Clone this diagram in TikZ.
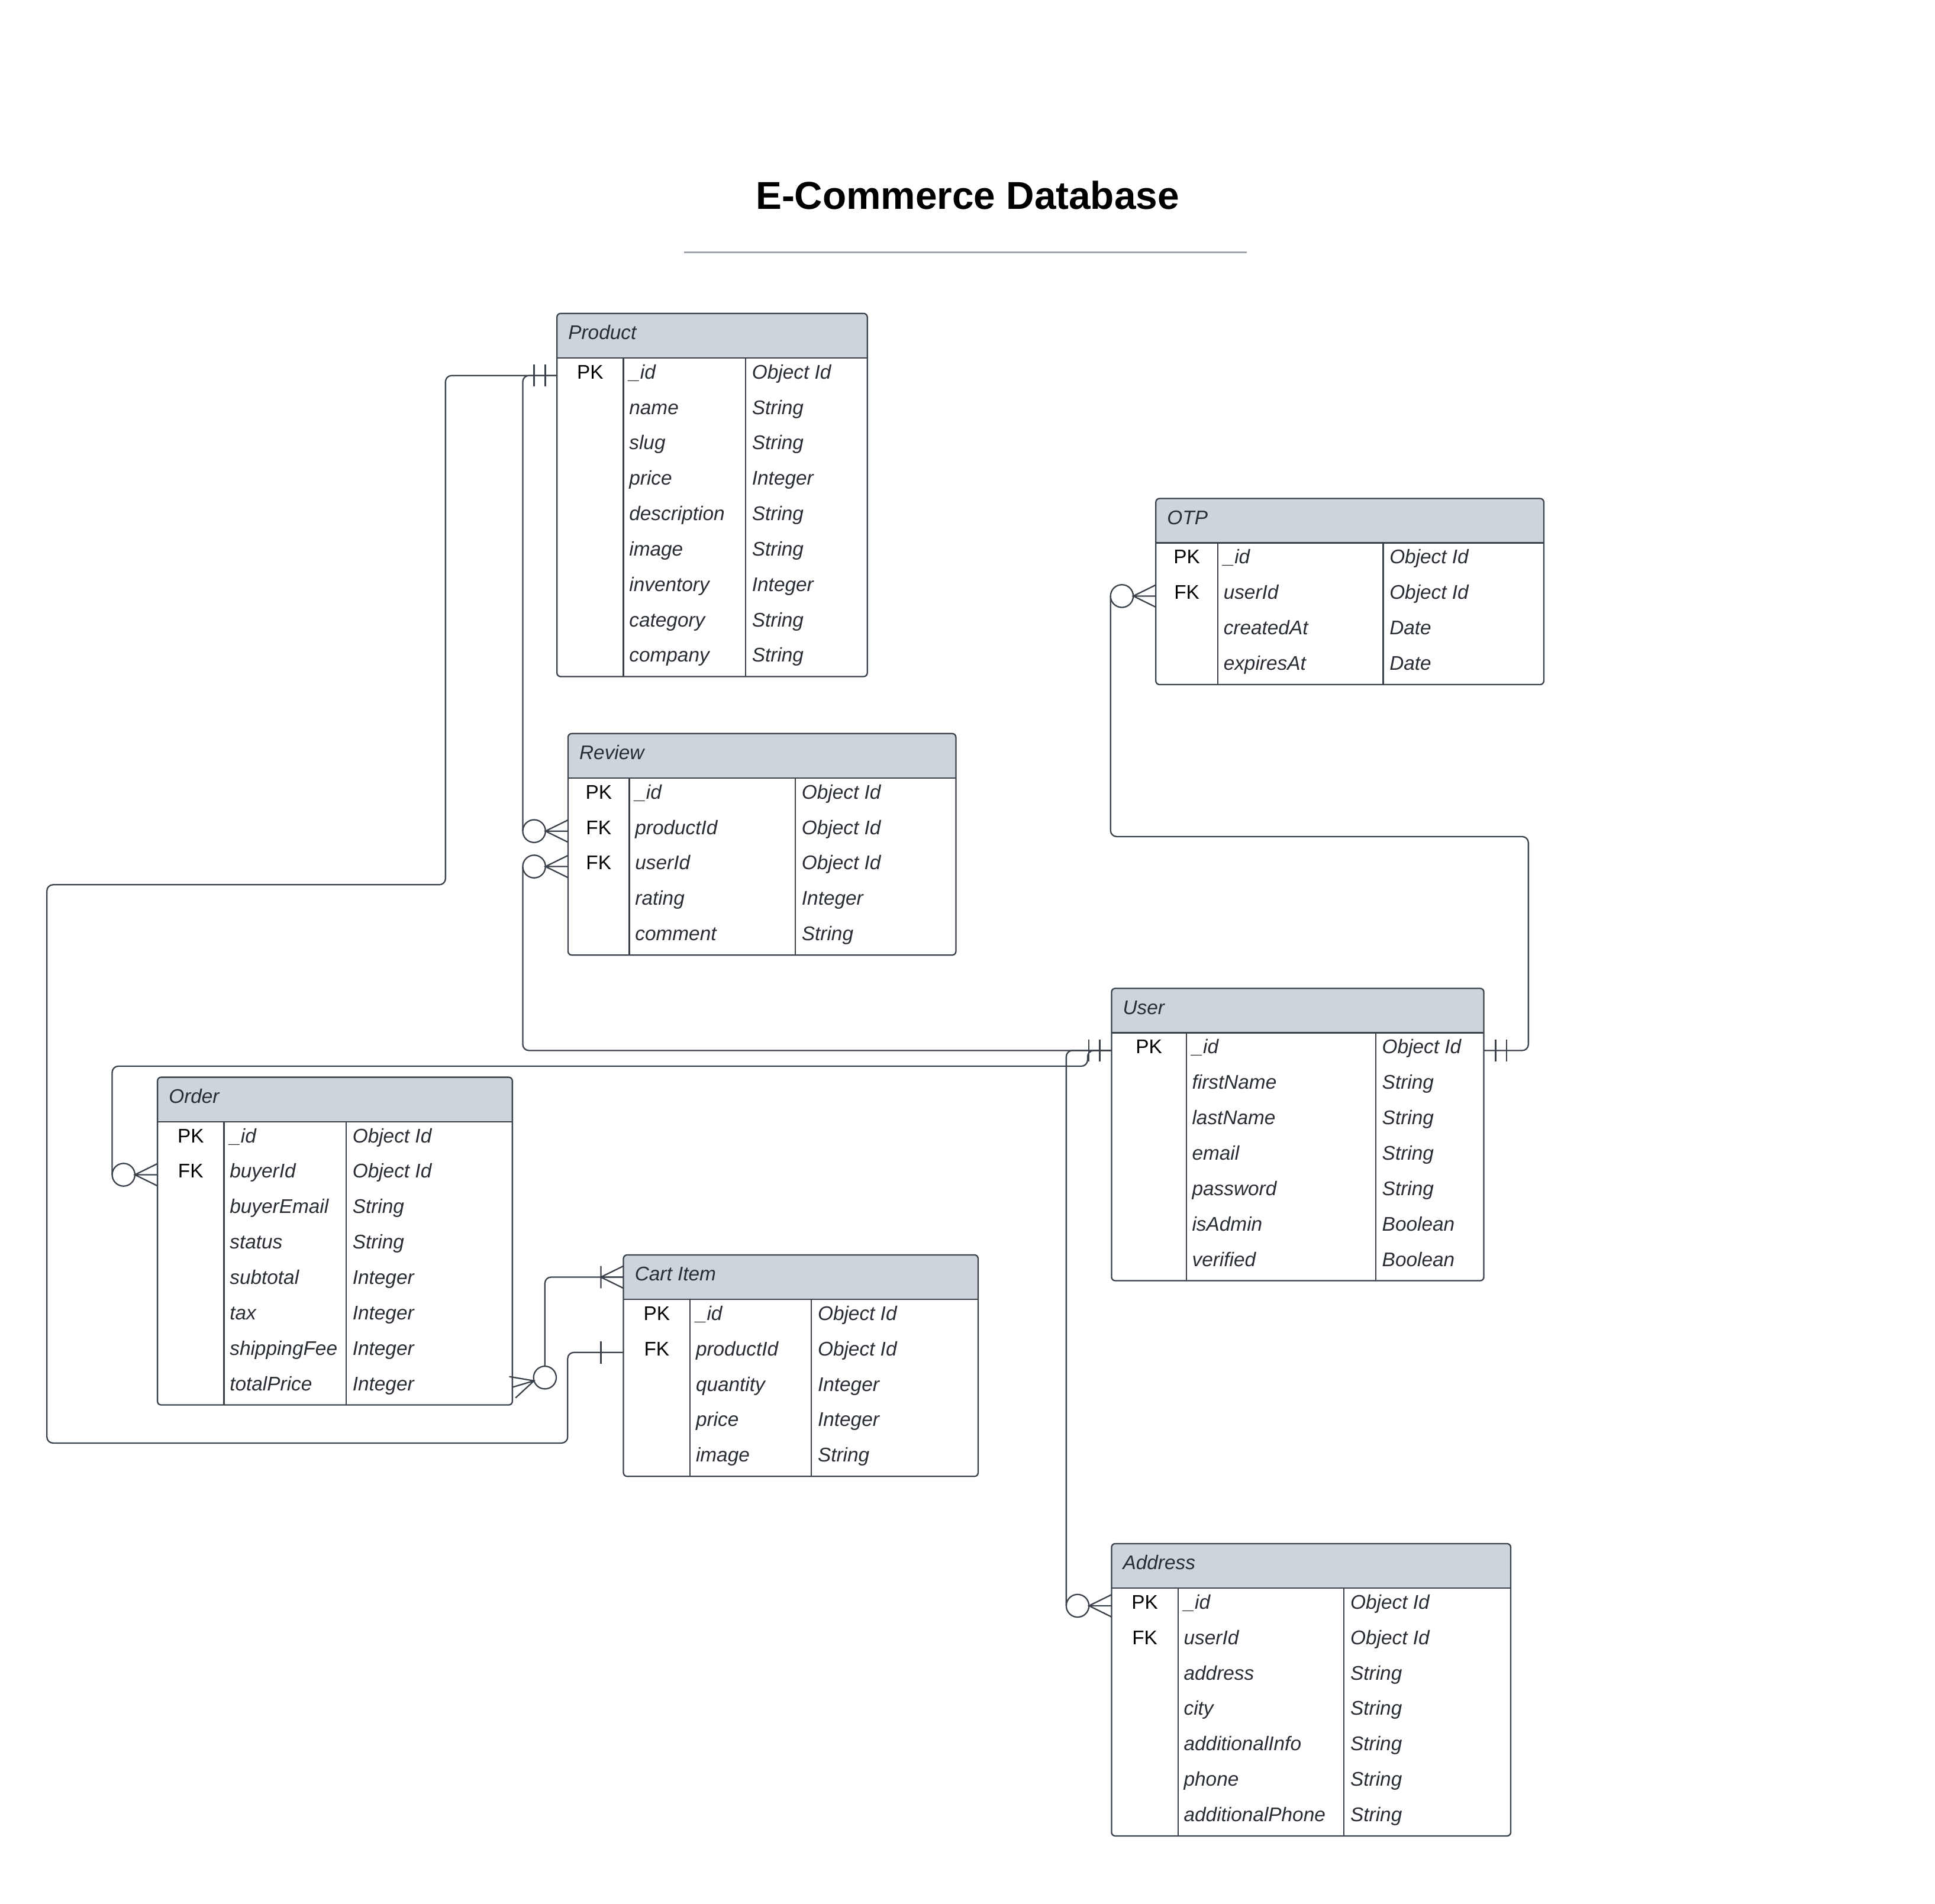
\documentclass[tikz,border=0pt]{standalone}
\usepackage{fontspec}
\setmainfont{Liberation Sans}
\usetikzlibrary{calc}
\definecolor{hdr}{HTML}{CED4DB}
\definecolor{edge}{HTML}{3A414A}
\definecolor{txt}{HTML}{282C33}
\definecolor{rulecol}{HTML}{A0A6AF}
\tikzset{
  conn/.style={draw=edge, line width=1.1pt},
  box/.style={draw=edge, line width=1.1pt},
  keytxt/.style={inner sep=0pt, font=\fontsize{16}{19}\selectfont, text=black},
  fldtxt/.style={inner sep=0pt, font=\fontsize{16}{19}\selectfont\itshape, text=txt},
}
\newcommand\erd[9]{%
  \pgfmathsetmacro\hb{#4+36}%
  \pgfmathsetmacro\bt{#4+36+#8*28.7}%
  \begin{scope}
    \clip[rounded corners=3pt] (#2,#4) rectangle (#3,\bt);
    \fill[white] (#2,#4) rectangle (#3,\bt);
    \fill[hdr] (#2,#4) rectangle (#3,\hb);
  \end{scope}
  \draw[box, rounded corners=3pt] (#2,#4) rectangle (#3,\bt);
  \draw[box] (#2,\hb) -- (#3,\hb) (#5,\hb) -- (#5,\bt) (#6,\hb) -- (#6,\bt);
  \node[fldtxt, anchor=base west] (#1-title) at (#2+9, #4+21) {#7};
  \coordinate (#1-Lh) at (#2, #4+18);
  \foreach \k/\f/\t [count=\i] in {#9} {
    \pgfmathsetmacro\yc{#4+36+(\i-0.5)*28.7}
    \coordinate (#1-L\i) at (#2,\yc);
    \coordinate (#1-R\i) at (#3,\yc);
    \ifx\k\empty\else
      \node[keytxt, anchor=base] (#1-k\i) at ({(#2+#5)/2}, \yc+2.6) {\k};
    \fi
    \node[fldtxt, anchor=base west] (#1-f\i) at (#5+4.5, \yc+2.6) {\f};
    \node[fldtxt, anchor=base west] (#1-t\i) at (#6+5, \yc+2.6) {\t};
  }%
}
% double bar, line leaving to the left / right
\newcommand\barsL[1]{\draw[conn] ($(#1)+(-9.5,-8.8)$) -- ++(0,17.6) ($(#1)+(-18.5,-8.8)$) -- ++(0,17.6);}
\newcommand\barsR[1]{\draw[conn] ($(#1)+(9.5,-8.8)$) -- ++(0,17.6) ($(#1)+(18.5,-8.8)$) -- ++(0,17.6);}
% zero or many, line leaving to the left
\newcommand\zmL[1]{\draw[conn] ($(#1)+(0,-9)$) -- ($(#1)+(-18.3,0)$) -- ($(#1)+(0,9)$) (#1) -- ($(#1)+(-18.3,0)$);
  \draw[conn] ($(#1)+(-27.5,0)$) circle[radius=9.2pt];}
% one or many, line leaving to the left
\newcommand\omL[1]{\draw[conn] ($(#1)+(0,-9)$) -- ($(#1)+(-18.3,0)$) -- ($(#1)+(0,9)$) (#1) -- ($(#1)+(-18.3,0)$)
  ($(#1)+(-18.3,-9)$) -- ++(0,18);}
% one, line leaving to the left
\newcommand\oneL[1]{\draw[conn] ($(#1)+(-18.3,-9)$) -- ++(0,18);}

\begin{document}
\begin{tikzpicture}[x=1pt,y=-1pt]
\useasboundingbox (0,0) rectangle (1568,1543);
\fill[white] (0,0) rectangle (1568,1543);

\node[anchor=base, font=\fontsize{31.5}{36}\selectfont\bfseries] (title) at (784,169.5) {E-Commerce Database};
\coordinate (ruleA) at (554.3,204.3);
\coordinate (ruleB) at (1010.5,204.3);
\draw[rulecol, line width=1.5pt] (ruleA) -- (ruleB);

% ---------- connectors (drawn first, tables on top) ----------
% Product._id -> Cart Item.productId
\draw[conn, rounded corners=5pt] (451.3,304.35) -- (361,304.35) -- (361,717) -- (38,717) -- (38,1169.5) -- (460,1169.5) -- (460,1096.05) -- (505.2,1096.05);

\erd{prod}{451.3}{702.8}{254}{505.2}{604.2}{Product}{9}{PK/\_id/Object Id,/name/String,/slug/String,/price/Integer,/description/String,/image/String,/inventory/Integer,/category/String,/company/String}
\erd{rev}{460.3}{774.6}{594.5}{510}{644.5}{Review}{5}{PK/\_id/Object Id,FK/productId/Object Id,FK/userId/Object Id,/rating/Integer,/comment/String}
\erd{otp}{936.6}{1251}{404}{986.8}{1120.8}{OTP}{4}{PK/\_id/Object Id,FK/userId/Object Id,/createdAt/Date,/expiresAt/Date}
\erd{user}{900.7}{1202.4}{801}{961.3}{1114.8}{User}{7}{PK/\_id/Object Id,/firstName/String,/lastName/String,/email/String,/password/String,/isAdmin/Boolean,/verified/Boolean}
\erd{ord}{127.6}{415.2}{873}{181.5}{280.5}{Order}{8}{PK/\_id/Object Id,FK/buyerId/Object Id,/buyerEmail/String,/status/String,/subtotal/Integer,/tax/Integer,/shippingFee/Integer,/totalPrice/Integer}
\erd{cart}{505.2}{792.6}{1017}{559.2}{657.5}{Cart Item}{5}{PK/\_id/Object Id,FK/productId/Object Id,/quantity/Integer,/price/Integer,/image/String}
\erd{addr}{900.7}{1224.2}{1251}{954.6}{1089.1}{Address}{7}{PK/\_id/Object Id,FK/userId/Object Id,/address/String,/city/String,/additionalInfo/String,/phone/String,/additionalPhone/String}

% Product._id -> Review.productId
\draw[conn, rounded corners=5pt] (prod-L1) -| ($(rev-L2)+(-36.7,0)$);
% Product / Cart endpoints
\draw[conn] (prod-L1) -- ++(-20,0);
\draw[conn] (cart-L2) -- ++(-20,0);
\barsL{prod-L1}
\zmL{rev-L2}
\oneL{cart-L2}

% User._id -> Review.userId
\draw[conn, rounded corners=5pt] (user-L1) -| ($(rev-L3)+(-36.7,0)$);
\zmL{rev-L3}
% User._id -> Order.buyerId
\draw[conn, rounded corners=5pt] (user-L1) -- ++(-19.4,0) -- ++(0,12.7) -| ($(ord-L2)+(-36.7,0)$);
\zmL{ord-L2}
% User._id -> Address
\draw[conn, rounded corners=5pt] (user-L1) -| ($(addr-L1)+(-36.7,0)$);
\zmL{addr-L1}
\barsL{user-L1}
% User._id -> OTP.userId
\draw[conn, rounded corners=5pt] (user-R1) -- (1238.5,851.35) |- (899.9,678) -- ($(otp-L2)+(-36.7,0)$);
\barsR{user-R1}
\zmL{otp-L2}

% Order -> Cart Item
\draw[conn, rounded corners=5pt] (cart-Lh) -| ($(ord-R8)+(26.35,-17.04)$);
\omL{cart-Lh}
\draw[conn] ($(ord-R8)+(26.35,-7.84)$) circle[radius=9.2pt];
\draw[conn] ($(ord-R8)+(-2.565,-8.62)$) -- ($(ord-R8)+(17.53,-5.22)$) -- ($(ord-R8)+(2.565,8.62)$)
  (ord-R8) -- ($(ord-R8)+(17.53,-5.22)$);
\end{tikzpicture}
\end{document}
